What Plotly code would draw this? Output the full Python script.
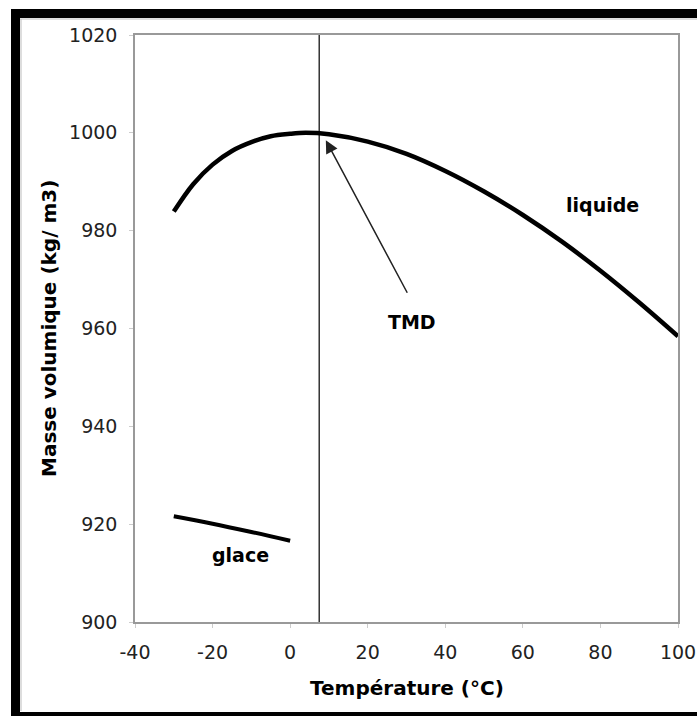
import plotly.graph_objects as go

# Data
liquid_temp = [-30, -25, -20, -15, -10, -5, 0, 4, 10, 20, 30, 40, 50, 60, 70, 80, 90, 100]
liquid_density = [983.9, 989.5, 993.5, 996.3, 998.1, 999.3, 999.8, 1000.0, 999.7, 998.2,
                  995.7, 992.2, 988.0, 983.2, 977.8, 971.8, 965.3, 958.4]
ice_temp = [-30, -20, -10, 0]
ice_density = [921.6, 920.1, 918.4, 916.6]
tmd_line_x = [7.5, 7.5]
tmd_line_y = [900, 1020]
x_ticks = [-40, -20, 0, 20, 40, 60, 80, 100]
x_tick_labels = ["-40", "-20", "0", "20", "40", "60", "80", "100"]
y_ticks = [900, 920, 940, 960, 980, 1000, 1020]
y_tick_labels = ["900", "920", "940", "960", "980", "1000", "1020"]

FONT = "DejaVu Sans"
FW, FH = 697, 716

fig = go.Figure()
fig.add_trace(go.Scatter(x=tmd_line_x, y=tmd_line_y, mode="lines",
                         line=dict(color="#333333", width=1.5), hoverinfo="skip"))
fig.add_trace(go.Scatter(x=liquid_temp, y=liquid_density, mode="lines",
                         line=dict(color="black", width=4.5, shape="spline")))
fig.add_trace(go.Scatter(x=ice_temp, y=ice_density, mode="lines",
                         line=dict(color="black", width=4, shape="spline")))

# plot area in reference-image pixels
L, R, T, B = 135, 678, 35, 622
W, H = R - L, B - T

def px(x):
    return (x - L) / W

def py(y):
    return (B - y) / H

shapes = [
    dict(type="rect", xref="paper", yref="paper", x0=px(11), x1=px(705), y0=py(18), y1=py(9),
         fillcolor="black", line=dict(width=0), layer="above"),
    dict(type="rect", xref="paper", yref="paper", x0=px(11), x1=px(20), y0=py(716), y1=py(9),
         fillcolor="black", line=dict(width=0), layer="above"),
    dict(type="rect", xref="paper", yref="paper", x0=px(11), x1=px(705), y0=py(716), y1=py(712),
         fillcolor="black", line=dict(width=0), layer="above"),
    dict(type="line", xref="paper", yref="paper", x0=px(20), x1=px(705), y0=py(19), y1=py(19),
         line=dict(color="#bbbbbb", width=1), layer="above"),
    dict(type="line", xref="paper", yref="paper", x0=px(21), x1=px(21), y0=py(711), y1=py(19),
         line=dict(color="#bbbbbb", width=1), layer="above"),
]

annotations = [
    dict(x=80.6, y=985.2, text="<b>liquide</b>", showarrow=False,
         xanchor="center", yanchor="middle",
         font=dict(family=FONT, size=19, color="black")),
    dict(x=31.4, y=961.3, text="<b>TMD</b>", showarrow=False,
         xanchor="center", yanchor="middle",
         font=dict(family=FONT, size=19, color="black")),
    dict(x=-12.7, y=913.7, text="<b>glace</b>", showarrow=False,
         xanchor="center", yanchor="middle",
         font=dict(family=FONT, size=19, color="black")),
    dict(x=9.2, y=998.5, ax=30.4, ay=967.0, xref="x", yref="y", axref="x", ayref="y",
         text="", showarrow=True, arrowhead=2, arrowsize=1.7, arrowwidth=1.5,
         arrowcolor="#222222"),
    dict(x=px((L + R) / 2), y=py(688), xref="paper", yref="paper",
         xanchor="center", yanchor="middle",
         text="<b>Température (°C)</b>", showarrow=False,
         font=dict(family=FONT, size=20, color="black")),
    dict(x=px(48.5), y=py((T + B) / 2), xref="paper", yref="paper",
         xanchor="center", yanchor="middle",
         text="<b>Masse volumique (kg/ m3)</b>", showarrow=False, textangle=-90,
         font=dict(family=FONT, size=20, color="black")),
]

fig.update_layout(
    width=FW, height=FH,
    margin=dict(l=L, r=FW - R, t=T, b=FH - B, pad=0, autoexpand=False),
    paper_bgcolor="white", plot_bgcolor="white",
    showlegend=False,
    shapes=shapes,
    annotations=annotations,
    font=dict(family=FONT, size=19, color="black"),
    xaxis=dict(range=[-40, 100], tickvals=x_ticks, ticktext=x_tick_labels,
               showgrid=False, zeroline=False, automargin=False,
               showline=True, linecolor="#999999", linewidth=1.5, mirror=True,
               ticks="outside", ticklen=4, tickcolor="#cccccc", ticklabelstandoff=8,
               tickfont=dict(family=FONT, size=19, color="#222222")),
    yaxis=dict(range=[900, 1020], tickvals=y_ticks, ticktext=y_tick_labels,
               showgrid=False, zeroline=False, automargin=False,
               showline=True, linecolor="#999999", linewidth=1.5, mirror=True,
               ticks="outside", ticklen=4, tickcolor="#cccccc", ticklabelstandoff=8,
               tickfont=dict(family=FONT, size=19, color="#222222")),
)

fig.write_html("out.html", config={"displayModeBar": False},
               post_script="document.body.style.margin='0';document.body.style.overflow='hidden';")
